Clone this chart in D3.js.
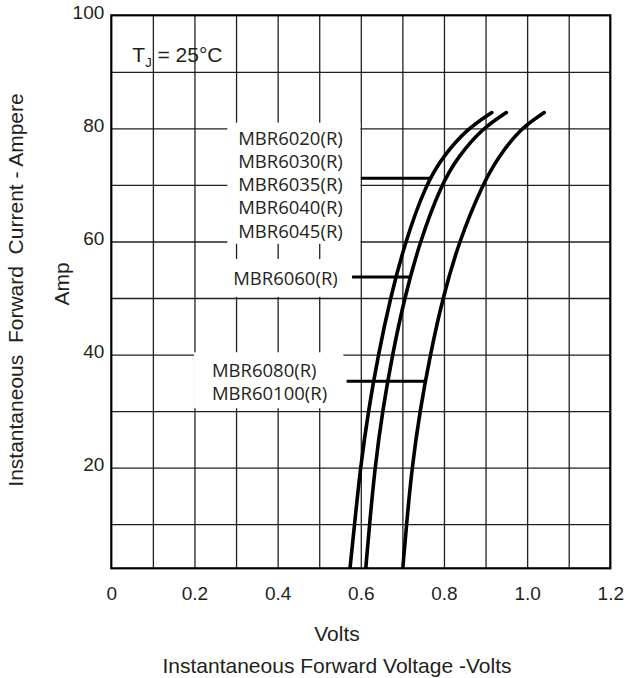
<!DOCTYPE html>
<html>
<head>
<meta charset="utf-8">
<script src="https://cdn.jsdelivr.net/npm/d3@7"></script>
<style>
body { margin: 0; background: #fff; }
text { font-family: "Liberation Sans", Arial, sans-serif; fill: #231f20; }
.lbl { font-family: "Open Sans", sans-serif; font-size: 18.5px; }
.grid line { stroke: #231f20; stroke-width: 1.3; }
.grid path { display: none; }
</style>
</head>
<body>
<div id="chart"></div>
<script>
//Datos
const currents = [2.2, 10, 20, 30, 40, 50, 60, 70, 75, 80, 82.8]
const voltsA = [0.574, 0.585, 0.599, 0.618, 0.642, 0.671, 0.707, 0.756, 0.797, 0.857, 0.915]
const voltsB = [0.612, 0.621, 0.634, 0.652, 0.676, 0.705, 0.742, 0.793, 0.834, 0.892, 0.950]
const voltsC = [0.701, 0.710, 0.723, 0.742, 0.767, 0.797, 0.836, 0.892, 0.931, 0.984, 1.041]

const xTicks = [0, 0.2, 0.4, 0.6, 0.8, 1.0, 1.2]
const xTickLabels = ["0", "0.2", "0.4", "0.6", "0.8", "1.0", "1.2"]
const yTicks = [20, 40, 60, 80, 100]
const xGrid = [0.1, 0.2, 0.3, 0.4, 0.5, 0.6, 0.7, 0.8, 0.9, 1.0, 1.1]
const yGrid = [10, 20, 30, 40, 50, 60, 70, 80, 90]

// etiquetas de modelos
const labelGroups = [
    ["MBR6020(R)", "MBR6030(R)", "MBR6035(R)", "MBR6040(R)", "MBR6045(R)"],
    ["MBR6060(R)"],
    ["MBR6080(R)", "MBR60100(R)"]
]
const boxVolts = [[0.279, 0.599], [0.269, 0.579], [0.199, 0.558]]
const boxAmps = [[81.0, 59.6], [56.9, 50.2], [40.4, 30.5]]
const textVolts = [0.305, 0.293, 0.242]
const textAmps = [77.1, 52.3, 36.1]
const leaderAmps = [71.2, 53.7, 35.3]
const leaderFrom = [0.6, 0.579, 0.566]
const leaderTo = [0.771, 0.718, 0.757]

//Constantes
const width = 627
const height = 678
const margin = { top: 15.3, left: 111.3, right: 16.7, bottom: 109.7 }
const innerW = width - margin.left - margin.right
const innerH = height - margin.top - margin.bottom

const svg = d3.select("#chart").append("svg")
    .attr("width", width)
    .attr("height", height)

const g = svg.append("g")
    .attr("transform", `translate(${margin.left}, ${margin.top})`)

//Escalas
const x = d3.scaleLinear().domain([0, 1.2]).range([0, innerW])
const y = d3.scaleLinear().domain([2.2, 100]).range([innerH, 0])

// rejilla
g.append("g").attr("class", "grid")
    .attr("transform", `translate(0, ${innerH})`)
    .call(d3.axisBottom(x).tickValues(xGrid).tickSize(-innerH).tickFormat(""))
g.append("g").attr("class", "grid")
    .call(d3.axisLeft(y).tickValues(yGrid).tickSize(-innerW).tickFormat(""))

// cajas blancas de etiquetas
g.selectAll(".box")
    .data(boxVolts)
    .enter().append("rect")
    .attr("class", "box")
    .attr("x", d => x(d[0]))
    .attr("width", d => x(d[1]) - x(d[0]))
    .attr("y", (d, i) => y(boxAmps[i][0]))
    .attr("height", (d, i) => y(boxAmps[i][1]) - y(boxAmps[i][0]))
    .attr("fill", "#fff")

labelGroups.forEach((lines, i) => {
    g.append("text")
        .attr("class", "lbl")
        .attr("x", x(textVolts[i]))
        .attr("y", y(textAmps[i]))
        .selectAll("tspan")
        .data(lines)
        .enter().append("tspan")
        .attr("x", x(textVolts[i]))
        .attr("dy", (d, j) => j === 0 ? 0 : 23.2)
        .text(d => d)
})

// lineas guia
g.selectAll(".leader")
    .data(leaderAmps)
    .enter().append("line")
    .attr("x1", (d, i) => x(leaderFrom[i]))
    .attr("x2", (d, i) => x(leaderTo[i]))
    .attr("y1", d => y(d))
    .attr("y2", d => y(d))
    .attr("stroke", "#000")
    .attr("stroke-width", 3)

// curvas
svg.append("clipPath").attr("id", "clip")
    .append("rect").attr("x", -5).attr("y", -5).attr("width", innerW + 10).attr("height", innerH + 5)

const line = d3.line()
    .x(d => x(d[0]))
    .y(d => y(d[1]))
    .curve(d3.curveBasis)

;[voltsA, voltsB, voltsC].forEach(v => {
    g.append("path")
        .datum(v.map((d, i) => [d, currents[i]]))
        .attr("clip-path", "url(#clip)")
        .attr("fill", "none")
        .attr("stroke", "#000")
        .attr("stroke-width", 3.6)
        .attr("stroke-linecap", "round")
        .attr("d", line)
})

// marco
g.append("rect")
    .attr("width", innerW)
    .attr("height", innerH)
    .attr("fill", "none")
    .attr("stroke", "#000")
    .attr("stroke-width", 2.2)

// ejes con etiquetas
const xAxis = g.append("g")
    .attr("transform", `translate(0, ${innerH})`)
    .call(d3.axisBottom(x).tickValues(xTicks).tickSize(0).tickPadding(18)
        .tickFormat((d, i) => xTickLabels[i]))
xAxis.select(".domain").remove()
xAxis.selectAll("text").style("font-size", "19px").attr("fill", "#231f20")

const yAxis = g.append("g")
    .call(d3.axisLeft(y).tickValues(yTicks).tickSize(0).tickPadding(7))
yAxis.select(".domain").remove()
yAxis.selectAll("text").style("font-size", "19px").attr("fill", "#231f20").attr("dy", "0.15em")

// T_J
const tj = g.append("text")
    .attr("x", 21)
    .attr("y", 47)
    .style("font-size", "21px")
tj.append("tspan").text("T")
tj.append("tspan").attr("dy", 5).style("font-size", "13px").text("J")
tj.append("tspan").attr("dy", -5).text(" = 25°C")

// titulos
svg.append("text")
    .attr("x", 337).attr("y", 641)
    .attr("text-anchor", "middle")
    .style("font-size", "21px")
    .text("Volts")
svg.append("text")
    .attr("x", 337).attr("y", 673)
    .attr("text-anchor", "middle")
    .style("font-size", "21px")
    .text("Instantaneous Forward Voltage -Volts")
svg.append("text")
    .attr("transform", "translate(23, 290) rotate(-90)")
    .attr("text-anchor", "middle")
    .style("font-size", "21px")
    .style("white-space", "pre")
    .text("Instantaneous  Forward  Current - Ampere")
svg.append("text")
    .attr("transform", "translate(69, 284) rotate(-90)")
    .attr("text-anchor", "middle")
    .style("font-size", "21px")
    .text("Amp")
</script>
</body>
</html>
